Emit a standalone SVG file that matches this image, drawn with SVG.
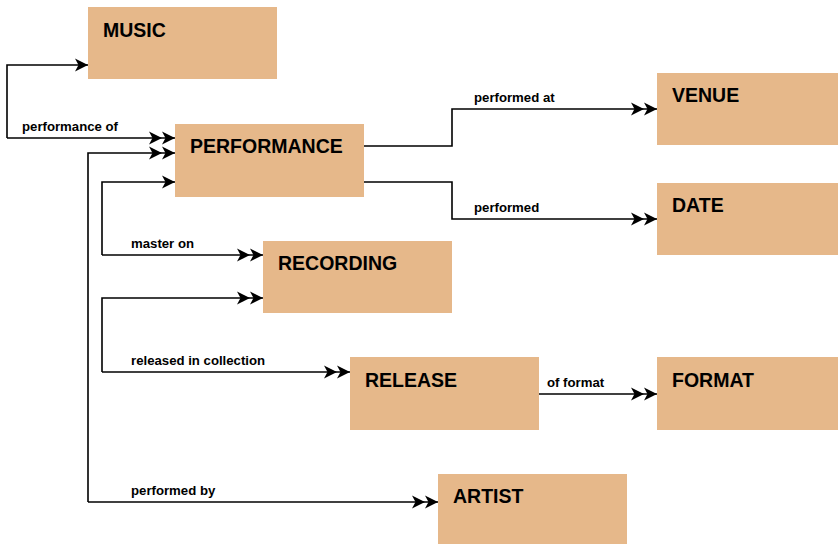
<svg xmlns="http://www.w3.org/2000/svg" width="838" height="545" viewBox="0 0 838 545">
<style>
.box{fill:#e6b88a;}
.title{font-family:"Liberation Sans",Arial,sans-serif;font-weight:bold;font-size:19.5px;fill:#000;}
.lbl{font-family:"Liberation Sans",Arial,sans-serif;font-weight:bold;font-size:13.2px;fill:#000;}
.edge{fill:none;stroke:#000;stroke-width:1.6;}
.one{marker-end:url(#one);}
.two{marker-end:url(#two);}
</style>
<defs>
<marker id="one" markerUnits="userSpaceOnUse" markerWidth="30" markerHeight="20" viewBox="-28 -10 30 20" refX="0" refY="0" orient="auto" overflow="visible">
<path d="M0,0 L-13,-6.5 L-9.5,0 L-13,6.5 Z" fill="#000"/>
</marker>
<marker id="two" markerUnits="userSpaceOnUse" markerWidth="30" markerHeight="20" viewBox="-28 -10 30 20" refX="0" refY="0" orient="auto" overflow="visible">
<path d="M0,0 L-13,-6.5 L-9.5,0 L-13,6.5 Z M-13,0 L-26,-6.5 L-22.5,0 L-26,6.5 Z" fill="#000"/>
</marker>
</defs>
<rect width="838" height="545" fill="#fff"/>
<g id="nodes">
<g id="music"><rect class="box" x="88" y="7" width="189" height="72"/><text class="title" x="103" y="37">MUSIC</text></g>
<g id="performance"><rect class="box" x="175" y="124" width="189" height="73"/><text class="title" x="190" y="153">PERFORMANCE</text></g>
<g id="venue"><rect class="box" x="657" y="73" width="181" height="72"/><text class="title" x="672" y="102">VENUE</text></g>
<g id="date"><rect class="box" x="657" y="183" width="181" height="72"/><text class="title" x="672" y="212">DATE</text></g>
<g id="recording"><rect class="box" x="263" y="241" width="189" height="72"/><text class="title" x="278" y="270">RECORDING</text></g>
<g id="release"><rect class="box" x="350" y="357" width="189" height="73"/><text class="title" x="365" y="387">RELEASE</text></g>
<g id="format"><rect class="box" x="657" y="357" width="181" height="73"/><text class="title" x="672" y="387">FORMAT</text></g>
<g id="artist"><rect class="box" x="438" y="474" width="189" height="70"/><text class="title" x="453" y="503">ARTIST</text></g>
</g>
<g id="connectors">
<path class="edge one" d="M7,138 L7,65 L88,65"/>
<path class="edge two" d="M7,138 L175,138"/>
<path class="edge two" d="M88,502 L88,153 L175,153"/>
<path class="edge two" d="M88,502 L438,502"/>
<path class="edge one" d="M102,255 L102,182 L175,182"/>
<path class="edge two" d="M102,255 L263,255"/>
<path class="edge two" d="M102,372 L102,298 L263,298"/>
<path class="edge two" d="M102,372 L350,372"/>
<path class="edge two" d="M364,146 L452,146 L452,109 L657,109"/>
<path class="edge two" d="M364,182 L452,182 L452,219 L657,219"/>
<path class="edge two" d="M539,394 L657,394"/>
<text class="lbl" x="22" y="131">performance of</text>
<text class="lbl" x="131" y="248">master on</text>
<text class="lbl" x="131" y="365">released in collection</text>
<text class="lbl" x="131" y="495">performed by</text>
<text class="lbl" x="474" y="102">performed at</text>
<text class="lbl" x="474" y="212">performed</text>
<text class="lbl" x="547" y="387">of format</text>
</g>
</svg>
